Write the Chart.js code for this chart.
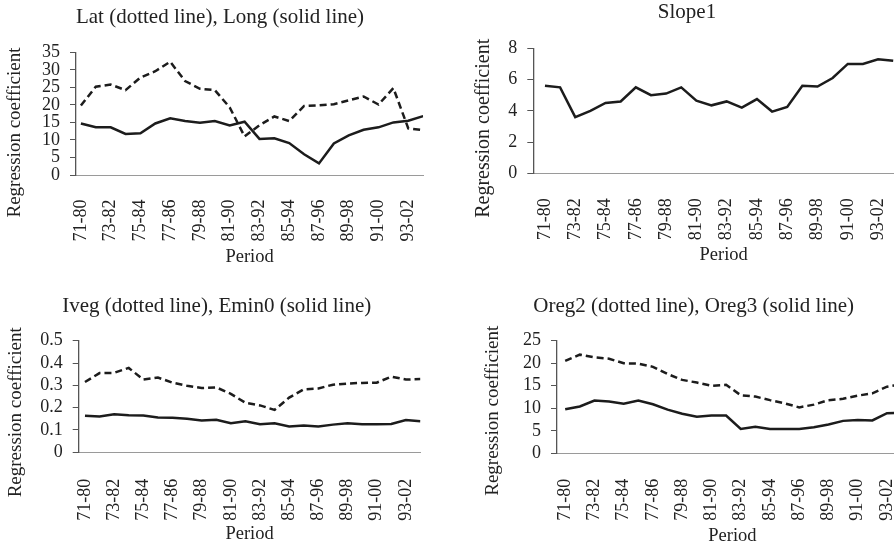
<!DOCTYPE html>
<html>
<head>
<meta charset="utf-8">
<script src="https://cdn.jsdelivr.net/npm/chart.js@4.4.1/dist/chart.umd.min.js"></script>
<style>
  html, body { margin: 0; padding: 0; background: #fff; }
  body { width: 894px; height: 548px; position: relative; overflow: hidden; }
  .panel { position: absolute; overflow: hidden; }
  .panel canvas { display: block; }
</style>
</head>
<body>
<div class="panel" style="left:0;top:0;width:447px;height:266px"><canvas id="latLong" width="447" height="290"></canvas></div>
<div class="panel" style="left:447px;top:0;width:447px;height:266px"><canvas id="slope" width="480" height="290"></canvas></div>
<div class="panel" style="left:0;top:274px;width:447px;height:267px"><canvas id="vegMin" width="447" height="290"></canvas></div>
<div class="panel" style="left:447px;top:274px;width:447px;height:268px"><canvas id="oreg" width="480" height="290"></canvas></div>
<script>
// ten-year moving windows
const periods = ["71-80", "72-81", "73-82", "74-83", "75-84", "76-85", "77-86", "78-87",
  "79-88", "80-89", "81-90", "82-91", "83-92", "84-93", "85-94", "86-95", "87-96",
  "88-97", "89-98", "90-99", "91-00", "92-01", "93-02", "94-03"];
const labelledPeriods = [0, 2, 4, 6, 8, 10, 12, 14, 16, 18, 20, 22];

const lat = [19.8, 25.2, 25.8, 24.2, 27.8, 29.6, 32.3, 26.8, 24.6, 24.2, 19.3, 11.0,
  14.2, 16.7, 15.4, 19.7, 19.9, 20.2, 21.3, 22.4, 20.1, 24.8, 13.3, 12.8];
const long = [14.7, 13.6, 13.6, 11.7, 11.9, 14.7, 16.2, 15.4, 14.9, 15.4, 14.1, 15.2,
  10.3, 10.5, 9.1, 5.9, 3.3, 9.0, 11.3, 12.9, 13.6, 15.0, 15.5, 16.8];
const slope1 = [5.6, 5.5, 3.6, 4.0, 4.5, 4.6, 5.5, 5.0, 5.1, 5.5, 4.65, 4.35,
  4.6, 4.2, 4.75, 3.95, 4.25, 5.6, 5.55, 6.1, 7.0, 7.0, 7.3, 7.2];
const iveg = [0.315, 0.355, 0.356, 0.378, 0.326, 0.335, 0.312, 0.298, 0.288, 0.291, 0.262, 0.222,
  0.21, 0.19, 0.245, 0.282, 0.286, 0.303, 0.308, 0.311, 0.312, 0.339, 0.326, 0.328];
const emin0 = [0.164, 0.16, 0.17, 0.166, 0.165, 0.156, 0.155, 0.15, 0.142, 0.146, 0.13, 0.139,
  0.126, 0.13, 0.116, 0.12, 0.116, 0.124, 0.13, 0.126, 0.126, 0.127, 0.145, 0.139];
const oreg2 = [20.5, 21.9, 21.3, 21.0, 20.0, 19.9, 19.2, 17.6, 16.3, 15.7, 15.0, 15.2,
  12.9, 12.6, 11.8, 11.1, 10.2, 10.8, 11.8, 12.1, 12.8, 13.3, 14.8, 15.3];
const oreg3 = [9.8, 10.4, 11.7, 11.5, 11.0, 11.7, 10.9, 9.7, 8.8, 8.1, 8.4, 8.4,
  5.4, 5.9, 5.4, 5.4, 5.4, 5.8, 6.4, 7.2, 7.4, 7.3, 8.9, 9.0];

const SERIF = "'Liberation Serif', 'Times New Roman', serif";
const INK = "#222";

Chart.defaults.font.family = SERIF;
Chart.defaults.color = INK;

// chart title and rotated y caption, placed by hand
const captions = {
  id: "captions",
  afterDraw(chart, args, opts) {
    const ctx = chart.ctx;
    ctx.save();
    ctx.fillStyle = INK;
    ctx.textAlign = "center";
    ctx.textBaseline = "alphabetic";
    ctx.font = "21px " + SERIF;
    ctx.fillText(opts.title, opts.titleX, opts.titleY);
    ctx.translate(opts.sideX, opts.sideY);
    ctx.rotate(-Math.PI / 2);
    ctx.textBaseline = "middle";
    ctx.font = (opts.sideSize || 19) + "px " + SERIF;
    ctx.fillText(opts.side, 0, 0);
    ctx.restore();
  }
};

function series(values, dashed) {
  return {
    data: values.map((v, i) => ({ x: i, y: v })),
    borderColor: "#1c1c1c",
    borderWidth: 2.5,
    borderDash: dashed ? [7, 4] : [],
    pointRadius: 0,
    tension: 0,
    fill: false,
  };
}

function makeChart(id, p, datasets) {
  const canvas = document.getElementById(id);
  const H = canvas.height;
  return new Chart(canvas, {
    type: "line",
    data: { datasets },
    plugins: [captions],
    options: {
      responsive: false,
      animation: false,
      layout: { padding: { left: 0, top: p.top, right: canvas.width - p.right, bottom: p.bottom } },
      plugins: {
        legend: { display: false },
        tooltip: { enabled: false },
        captions: {
          title: p.title, titleX: p.titleX, titleY: p.titleY,
          side: "Regression coefficient", sideX: p.sideX, sideY: p.sideY, sideSize: p.sideSize,
        },
      },
      scales: {
        x: {
          type: "linear",
          min: p.xMin,
          max: p.xMax,
          afterFit: (s) => { s.height = H - p.bottom - p.plotBottom; },
          afterBuildTicks: (s) => { s.ticks = labelledPeriods.map((v) => ({ value: v })); },
          grid: { display: false },
          border: { display: true, color: "#9a9a9a", width: 1, dash: [3, 2] },
          ticks: {
            autoSkip: false,
            minRotation: 90,
            maxRotation: 90,
            padding: p.xPad,
            font: { size: 18 },
            color: INK,
            callback: (v) => periods[v] || "",
          },
          title: { display: true, text: "Period", font: { size: 18.5 }, color: INK, padding: 0 },
        },
        y: {
          min: 0,
          max: p.yMax,
          afterFit: (s) => { s.width = p.axisX; },
          grid: { drawOnChartArea: false, drawTicks: true, tickLength: 6, color: "#555" },
          border: { display: true, color: "#555", width: 1.3 },
          ticks: { stepSize: p.yStep, autoSkip: false, padding: 10, font: { size: 18 }, color: INK },
        },
      },
    },
  });
}

makeChart("latLong", {
  axisX: 76, top: 52.3, plotBottom: 175, right: 432, bottom: 21.7,
  xMin: -0.33, xMax: 23, xPad: 16.5, yMax: 35, yStep: 5,
  title: "Lat (dotted line), Long (solid line)", titleX: 220, titleY: 23.3, sideX: 15, sideY: 132.5,
}, [series(lat, true), series(long, false)]);

makeChart("slope", {
  axisX: 86.3, top: 48.3, plotBottom: 173.3, right: 467.1, bottom: 23.4,
  xMin: -0.77, xMax: 24.38, xPad: 17, yMax: 8, yStep: 2,
  title: "Slope1", titleX: 240, titleY: 18.3, sideX: 37, sideY: 128.3, sideSize: 20,
}, [series(slope1, false)]);

makeChart("vegMin", {
  axisX: 78.7, top: 66.7, plotBottom: 178.3, right: 422.7, bottom: 18.4,
  xMin: -0.43, xMax: 23, xPad: 18.5, yMax: 0.5, yStep: 0.1,
  title: "Iveg (dotted line), Emin0 (solid line)", titleX: 216.7, titleY: 37.5, sideX: 16.5, sideY: 138.3,
}, [series(iveg, true), series(emin0, false)]);

makeChart("oreg", {
  axisX: 110, top: 66.7, plotBottom: 179.3, right: 465, bottom: 16.7,
  xMin: -0.56, xMax: 23.43, xPad: 17.5, yMax: 25, yStep: 5,
  title: "Oreg2 (dotted line), Oreg3 (solid line)", titleX: 246.7, titleY: 38.3, sideX: 46, sideY: 136.7,
}, [series(oreg2, true), series(oreg3, false)]);
</script>
</body>
</html>
